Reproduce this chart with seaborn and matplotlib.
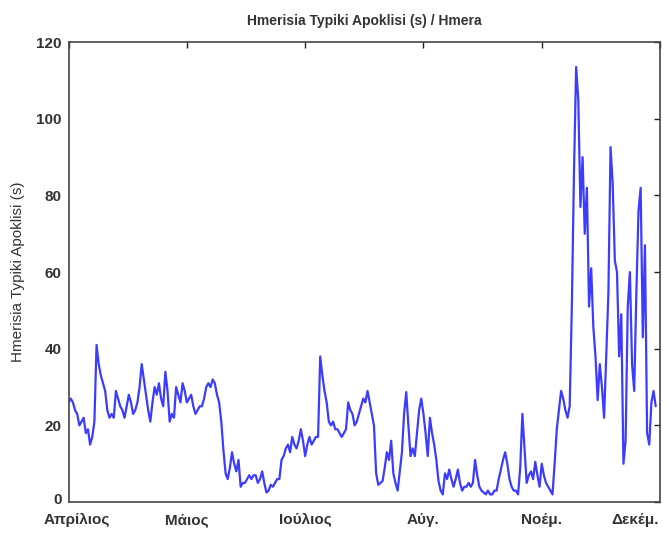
import numpy as np
import pandas as pd
import matplotlib
matplotlib.use("Agg")
import matplotlib.pyplot as plt
import matplotlib.transforms as mtransforms
import seaborn as sns

# Daily standard deviation (s), one value per day starting in April
daily_std = [
    26, 27, 26, 24, 23, 20, 21, 22, 18, 19,
    15, 17, 21, 41, 36, 33, 31, 29, 24, 22,
    23, 22, 29, 27, 25, 24, 22, 25, 28, 26,
    23, 24, 26, 30, 36, 32, 28, 24, 21, 26,
    30, 28, 31, 27, 25, 34, 29, 21, 23, 22,
    30, 28, 26, 31, 29, 26, 27, 28, 25, 23,
    24, 25, 25, 27, 30, 31, 30, 32, 31, 28,
    26, 21, 13.5, 7.5, 6, 9, 13, 10, 8, 11,
    4, 5, 5, 6, 7, 6, 7, 7, 5, 6,
    8, 5, 2.5, 3, 4.5, 4, 5, 6, 6, 11,
    12, 14, 15, 13, 17, 15, 14, 16, 19, 16,
    12, 15, 17, 15, 16, 17, 17, 38, 33, 29,
    26, 21, 20, 21, 19, 19, 18, 17, 18, 19,
    26, 24, 23, 20, 21, 23, 25, 27, 26, 29,
    26, 23, 20, 7.5, 4.5, 5, 5.5, 9, 13, 11,
    16, 7.5, 5, 3, 8, 13, 23, 28.7, 20, 12,
    14, 12, 18, 24, 27, 23, 18, 12, 22, 18,
    15, 11, 5.5, 3, 2, 7.5, 6, 8.5, 6, 4,
    6, 8.5, 5, 3, 4, 4, 5, 4, 5, 11,
    7, 4, 3, 2.5, 2, 3, 2, 2, 3, 3,
    6, 8.5, 11, 13, 10, 6, 4, 3, 3, 2,
    9, 23, 14, 5, 7, 8, 6, 10.5, 7, 4,
    10, 7, 5, 4, 3, 2, 10, 19, 24, 29,
    27, 24, 22, 25, 51, 86, 113.5, 105, 77, 90,
    70, 82, 51, 61, 45.6, 38, 26.6, 36, 30, 22,
    38, 54.5, 92.6, 83, 63, 60, 38, 49, 10, 16,
    51, 60, 36, 29, 54.5, 76, 82, 43, 67, 18,
    15, 26, 29, 25,
]
days = np.arange(len(daily_std))

month_ticks = [0, 55, 110, 165, 220, 275]
month_labels = ["Απρίλιος", "Μάιος", "Ιούλιος", "Αύγ.", "Νοέμ.", "Δεκέμ."]
y_ticks = [0, 20, 40, 60, 80, 100, 120]

df = pd.DataFrame({"day": days, "std": daily_std})

sns.set_style("white")
plt.rcParams["font.family"] = ["Liberation Sans", "DejaVu Sans"]

fig = plt.figure(figsize=(6.66, 5.33), dpi=100)
ax = fig.add_axes([0.103, 0.058, 0.888, 0.863])

sns.lineplot(data=df, x="day", y="std", ax=ax, color="#3c3cff",
             linewidth=1.6, estimator=None)

ax.set_xlim(0, 275)
ax.set_ylim(0, 120)
ax.set_xticks(month_ticks)
ax.set_xticklabels(month_labels)
ax.set_yticks(y_ticks)
ax.set_yticklabels([str(v) for v in y_ticks])

ax.tick_params(direction="in", length=4, width=1, colors="#222222",
               top=True, right=True, labelsize=11)
ax.tick_params(axis="x", pad=8)
ax.tick_params(axis="y", pad=5)
for lbl in ax.get_xticklabels() + ax.get_yticklabels():
    lbl.set_fontweight("bold")
    lbl.set_color("#333333")

# keep the outer month labels inside the figure
xl = ax.get_xticklabels()
xl[0].set_transform(xl[0].get_transform() +
                    mtransforms.ScaledTranslation(8 / 100, 0, fig.dpi_scale_trans))
xl[-1].set_transform(xl[-1].get_transform() +
                     mtransforms.ScaledTranslation(-25 / 100, 0, fig.dpi_scale_trans))
# lift the zero label a little above the month labels
yl = ax.get_yticklabels()
yl[0].set_transform(yl[0].get_transform() +
                    mtransforms.ScaledTranslation(0, 4 / 100, fig.dpi_scale_trans))

for s in ax.spines.values():
    s.set_visible(True)
    s.set_color("#444444")
    s.set_linewidth(1.2)

ax.set_xlabel("")
ax.set_ylabel("Hmerisia Typiki Apoklisi (s)", fontsize=11, color="#333333",
              labelpad=8)
ax.set_title("Hmerisia Typiki Apoklisi (s) / Hmera", fontsize=10,
             fontweight="bold", color="#333333", pad=12)

fig.savefig("out.png", dpi=100, facecolor="white")
